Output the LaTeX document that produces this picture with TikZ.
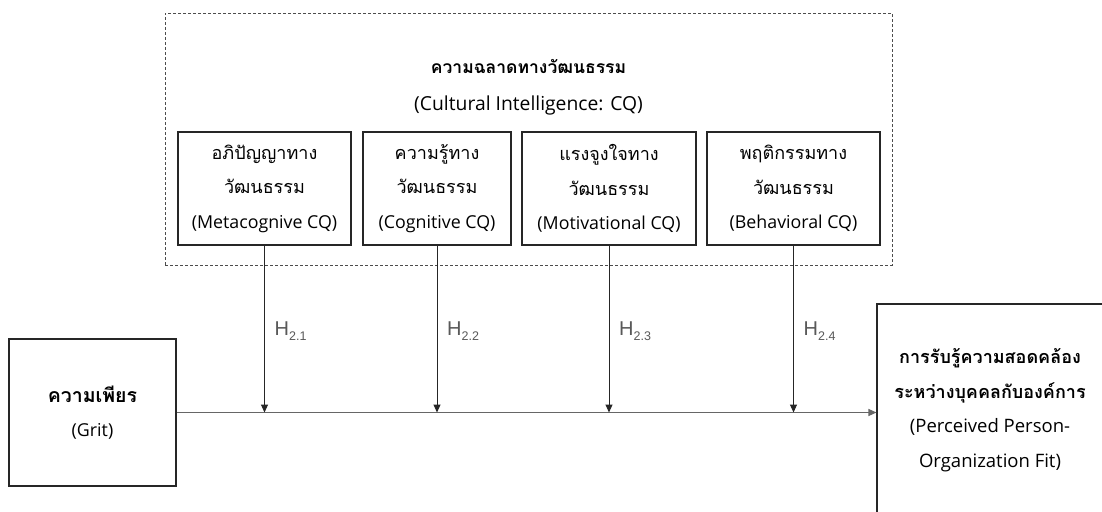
\documentclass[tikz,border=0pt]{standalone}
\usepackage{fontspec}
\usetikzlibrary{arrows.meta}
\newfontfamily\thfont[Script=Thai]{Loma}
\newfontfamily\enfont{Open Sans}
\newfontfamily\hfont{Liberation Sans}
\newcommand{\enline}{\enfont\fontsize{17.8}{34.5}\selectfont}
\newcommand{\enpo}{\enfont\fontsize{18.5}{34.5}\selectfont}
\tikzset{
  box/.style={draw=black!85, line width=1.1pt, rectangle, align=center, inner sep=0pt,
    font=\fontsize{18}{34.5}\selectfont},
  frame/.style={draw=black!70, line width=0.8pt, dash pattern=on 3pt off 2pt, rectangle, inner sep=0pt},
  link/.style={draw=black!85, line width=1pt, -{Triangle[length=8pt,width=7pt]}},
  mainlink/.style={draw=black!60, line width=1.2pt, -{Triangle[length=8pt,width=7pt]}},
  hlab/.style={anchor=base west, inner sep=0pt, text=black!65, font=\hfont\fontsize{20}{20}\selectfont},
  title/.style={inner sep=0pt, anchor=base}
}
\newcommand{\hsub}[1]{H\raisebox{-5pt}{\fontsize{12.5}{12.5}\selectfont #1}}
\begin{document}
\begin{tikzpicture}[x=1pt,y=-1pt]
\useasboundingbox (0,0) rectangle (1102,511);
\clip (0,0) rectangle (1102,511);
\fill[white] (0,0) rectangle (1102,511);

% dashed frame of CQ
\node[frame, minimum width=727pt, minimum height=252pt] (cq) at (528.5,139) {};
\node[title, font=\thfont\bfseries\fontsize{17.5}{17.5}\selectfont] (cqt) at (528.5,74) {ความฉลาดทางวัฒนธรรม};
\node[title, font=\enfont\fontsize{19.3}{19.3}\selectfont] (cqe) at (528.5,110) {(Cultural Intelligence: CQ)};

% four CQ dimension boxes
\node[box, minimum width=173pt, minimum height=113pt] (b1) at (264.5,188.5)
  {{\thfont อภิปัญญาทาง}\\{\thfont วัฒนธรรม}\\{\enline (Metacognive CQ)}};
\node[box, minimum width=148pt, minimum height=113pt] (b2) at (437,188.5)
  {{\thfont ความรู้ทาง}\\{\thfont วัฒนธรรม}\\{\enline (Cognitive CQ)}};
\node[box, minimum width=174pt, minimum height=113pt] (b3) at (609,188.5)
  {{\thfont แรงจูงใจทาง}\\{\thfont วัฒนธรรม}\\{\enline (Motivational CQ)}};
\node[box, minimum width=173pt, minimum height=113pt] (b4) at (793.5,188.5)
  {{\thfont พฤติกรรมทาง}\\{\thfont วัฒนธรรม}\\{\enline (Behavioral CQ)}};

% Grit box
\node[box, minimum width=167pt, minimum height=147pt] (grit) at (92.5,412.5)
  {{\thfont\bfseries\fontsize{19.5}{34.5}\selectfont ความเพียร}\\{\enline (Grit)}};

% Person-organization fit box
\node[box, minimum width=226pt, minimum height=212pt] (po) at (990,410)
  {{\thfont\bfseries การรับรู้ความสอดคล้อง}\\{\thfont\bfseries ระหว่างบุคคลกับองค์การ}\\{\enpo (Perceived Person-}\\{\enpo Organization Fit)}};

% main path
\coordinate (pend) at (grit.east -| po.west);
\draw[mainlink] (grit.east) -- (pend);

% moderating arrows
\foreach \i in {1,2,3,4}{
  \coordinate (j\i) at (b\i.south |- grit.east);
  \draw[link] (b\i.south) -- (j\i);
}

% hypothesis labels
\node[hlab] (h1) at ([xshift=10pt]b1.south |- 0,335) {\hsub{2.1}};
\node[hlab] (h2) at ([xshift=10pt]b2.south |- 0,335) {\hsub{2.2}};
\node[hlab] (h3) at ([xshift=10pt]b3.south |- 0,335) {\hsub{2.3}};
\node[hlab] (h4) at ([xshift=10pt]b4.south |- 0,335) {\hsub{2.4}};
\end{tikzpicture}
\end{document}
